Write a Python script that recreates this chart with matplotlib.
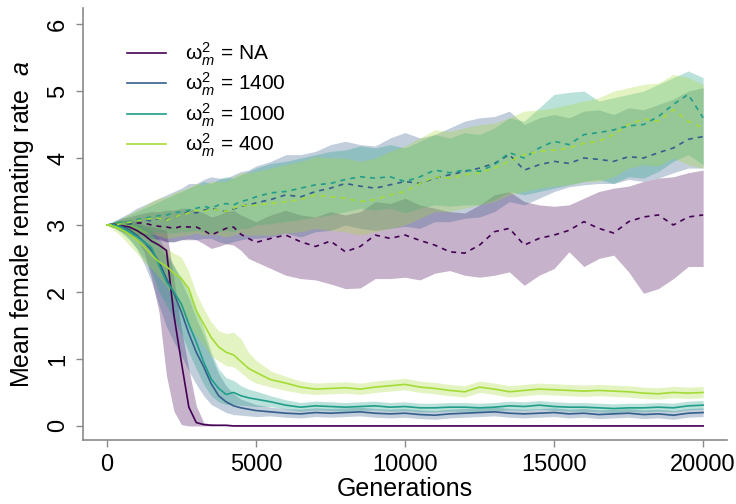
import matplotlib
matplotlib.use('Agg')
import matplotlib.pyplot as plt

plt.rcParams['font.family'] = ['Liberation Sans', 'DejaVu Sans']
plt.rcParams['mathtext.fontset'] = 'custom'
plt.rcParams['mathtext.rm'] = 'Liberation Sans'
plt.rcParams['mathtext.it'] = 'Liberation Sans:italic'

# generations (finer steps during the early drop)
gens = [0, 250, 500, 750, 1000, 1250, 1500, 1750, 2000, 2250, 2500, 2750, 3000, 3250, 3500,
        3750, 4000, 4250, 4500, 4750, 5000, 5500, 6000, 6500, 7000, 7500, 8000, 8500, 9000,
        9500, 10000, 10500, 11000, 11500, 12000, 12500, 13000, 13500, 14000, 14500, 15000,
        15500, 16000, 16500, 17000, 17500, 18000, 18500, 19000, 19500, 20000]

labels = ['NA', '1400', '1000', '400']
colors = ['#440154', '#355F8D', '#1F9E89', '#A5DB36']

# solid lines: runs where remating rate collapses
dec_mean_na = [3.00, 3.01, 2.99, 2.97, 2.92, 2.85, 2.76, 2.70, 2.62, 1.65, 0.95, 0.28, 0.05, 0.02, 0.01,
               0.01, 0.01, 0.00, 0.00, 0.00, 0.00, 0.00, 0.00, 0.00, 0.00, 0.00, 0.00, 0.00, 0.00,
               0.00, 0.00, 0.00, 0.00, 0.00, 0.00, 0.00, 0.00, 0.00, 0.00, 0.00, 0.00,
               0.00, 0.00, 0.00, 0.00, 0.00, 0.00, 0.00, 0.00, 0.00, 0.00]
dec_lo_na = [3.00, 2.96, 2.90, 2.85, 2.78, 2.60, 2.20, 1.70, 0.75, 0.22, 0.02, 0.00, 0.00, 0.00, 0.00,
             0.00, 0.00, 0.00, 0.00, 0.00, 0.00, 0.00, 0.00, 0.00, 0.00, 0.00, 0.00, 0.00, 0.00,
             0.00, 0.00, 0.00, 0.00, 0.00, 0.00, 0.00, 0.00, 0.00, 0.00, 0.00, 0.00,
             0.00, 0.00, 0.00, 0.00, 0.00, 0.00, 0.00, 0.00, 0.00, 0.00]
dec_hi_na = [3.00, 3.05, 3.06, 3.08, 3.05, 3.00, 2.98, 2.95, 2.92, 2.20, 1.45, 0.85, 0.30, 0.05, 0.03,
             0.02, 0.01, 0.01, 0.01, 0.01, 0.01, 0.01, 0.01, 0.01, 0.01, 0.01, 0.01, 0.01, 0.01,
             0.01, 0.01, 0.01, 0.01, 0.01, 0.01, 0.01, 0.01, 0.01, 0.01, 0.01, 0.01,
             0.01, 0.01, 0.01, 0.01, 0.01, 0.01, 0.01, 0.01, 0.01, 0.01]

dec_mean_1400 = [3.00, 3.00, 2.98, 2.93, 2.85, 2.75, 2.62, 2.45, 2.20, 1.98, 1.70, 1.38, 1.10, 0.88, 0.63,
                 0.45, 0.36, 0.30, 0.27, 0.25, 0.23, 0.21, 0.19, 0.18, 0.20, 0.19, 0.20, 0.21, 0.19,
                 0.18, 0.19, 0.17, 0.16, 0.18, 0.19, 0.20, 0.21, 0.19, 0.18, 0.19, 0.20,
                 0.18, 0.19, 0.17, 0.18, 0.19, 0.17, 0.18, 0.16, 0.19, 0.20]
dec_lo_1400 = [3.00, 2.96, 2.90, 2.80, 2.65, 2.42, 2.15, 1.80, 1.48, 1.25, 1.05, 0.82, 0.62, 0.45, 0.32,
               0.26, 0.20, 0.17, 0.16, 0.15, 0.14, 0.15, 0.13, 0.12, 0.14, 0.13, 0.14, 0.15, 0.13,
               0.12, 0.13, 0.11, 0.10, 0.12, 0.13, 0.14, 0.15, 0.13, 0.12, 0.13, 0.14,
               0.12, 0.13, 0.11, 0.12, 0.13, 0.11, 0.12, 0.10, 0.13, 0.14]
dec_hi_1400 = [3.00, 3.05, 3.07, 3.06, 3.03, 2.98, 2.92, 2.80, 2.60, 2.40, 2.15, 1.90, 1.60, 1.35, 1.05,
               0.78, 0.60, 0.48, 0.40, 0.36, 0.32, 0.28, 0.26, 0.25, 0.27, 0.26, 0.27, 0.28, 0.26,
               0.25, 0.26, 0.24, 0.23, 0.25, 0.26, 0.27, 0.28, 0.26, 0.25, 0.26, 0.27,
               0.25, 0.26, 0.24, 0.25, 0.26, 0.24, 0.25, 0.23, 0.26, 0.27]

dec_mean_1000 = [3.00, 3.00, 2.96, 2.90, 2.83, 2.75, 2.66, 2.40, 2.15, 2.00, 1.82, 1.52, 1.25, 0.95, 0.70,
                 0.56, 0.47, 0.50, 0.45, 0.42, 0.40, 0.36, 0.31, 0.28, 0.30, 0.29, 0.28, 0.29, 0.30,
                 0.28, 0.29, 0.27, 0.27, 0.28, 0.28, 0.27, 0.28, 0.30, 0.29, 0.31, 0.29,
                 0.28, 0.28, 0.27, 0.26, 0.27, 0.27, 0.28, 0.27, 0.30, 0.31]
dec_lo_1000 = [3.00, 2.96, 2.88, 2.78, 2.65, 2.50, 2.30, 2.00, 1.80, 1.60, 1.38, 1.10, 0.85, 0.62, 0.45,
               0.36, 0.32, 0.32, 0.31, 0.30, 0.29, 0.29, 0.25, 0.22, 0.24, 0.23, 0.22, 0.23, 0.24,
               0.22, 0.23, 0.21, 0.21, 0.22, 0.22, 0.21, 0.22, 0.24, 0.23, 0.25, 0.23,
               0.22, 0.22, 0.21, 0.20, 0.21, 0.21, 0.22, 0.21, 0.24, 0.25]
dec_hi_1000 = [3.00, 3.05, 3.06, 3.05, 3.00, 2.95, 2.90, 2.70, 2.52, 2.38, 2.22, 2.00, 1.75, 1.45, 1.10,
               0.85, 0.72, 0.68, 0.60, 0.55, 0.52, 0.45, 0.39, 0.35, 0.37, 0.36, 0.35, 0.36, 0.37,
               0.35, 0.36, 0.34, 0.34, 0.35, 0.35, 0.34, 0.35, 0.37, 0.36, 0.38, 0.36,
               0.35, 0.35, 0.34, 0.33, 0.34, 0.34, 0.35, 0.34, 0.37, 0.38]

dec_mean_400 = [3.00, 2.98, 2.93, 2.86, 2.78, 2.68, 2.55, 2.45, 2.38, 2.28, 2.20, 2.05, 1.72, 1.52, 1.32,
                1.18, 1.10, 1.06, 0.96, 0.86, 0.80, 0.69, 0.64, 0.58, 0.55, 0.56, 0.57, 0.55, 0.58,
                0.60, 0.62, 0.58, 0.56, 0.53, 0.51, 0.58, 0.55, 0.51, 0.53, 0.55, 0.54,
                0.53, 0.52, 0.53, 0.52, 0.51, 0.49, 0.48, 0.50, 0.49, 0.50]
dec_lo_400 = [3.00, 2.92, 2.82, 2.70, 2.58, 2.45, 2.35, 2.22, 2.08, 1.90, 1.72, 1.50, 1.35, 1.20, 1.05,
              0.97, 0.90, 0.88, 0.80, 0.70, 0.64, 0.58, 0.53, 0.49, 0.47, 0.48, 0.49, 0.47, 0.50,
              0.52, 0.54, 0.50, 0.48, 0.45, 0.43, 0.50, 0.47, 0.43, 0.45, 0.47, 0.46,
              0.45, 0.44, 0.45, 0.44, 0.43, 0.41, 0.40, 0.42, 0.41, 0.42]
dec_hi_400 = [3.00, 3.04, 3.05, 3.02, 2.98, 2.92, 2.85, 2.75, 2.65, 2.58, 2.52, 2.30, 1.98, 1.75, 1.55,
              1.42, 1.38, 1.40, 1.30, 1.10, 0.98, 0.82, 0.74, 0.67, 0.64, 0.65, 0.66, 0.64, 0.67,
              0.69, 0.71, 0.67, 0.65, 0.62, 0.60, 0.67, 0.64, 0.60, 0.62, 0.64, 0.63,
              0.62, 0.61, 0.62, 0.61, 0.60, 0.58, 0.57, 0.59, 0.58, 0.59]

# dashed lines: runs where remating rate keeps rising
inc_mean_na = [3.00, 3.01, 3.02, 3.02, 3.03, 3.03, 3.00, 2.98, 2.97, 2.95, 2.98, 2.97, 2.97, 2.92, 2.85,
               2.90, 2.95, 2.97, 2.86, 2.80, 2.74, 2.80, 2.85, 2.75, 2.68, 2.76, 2.60, 2.68, 2.85,
               2.80, 2.85, 2.77, 2.70, 2.60, 2.58, 2.70, 2.90, 2.95, 2.70, 2.80, 2.85,
               2.92, 3.05, 2.95, 2.88, 3.05, 3.12, 3.15, 3.00, 3.12, 3.15]
inc_lo_na = [3.00, 2.97, 2.94, 2.90, 2.88, 2.85, 2.80, 2.78, 2.75, 2.75, 2.78, 2.78, 2.78, 2.72, 2.65,
             2.68, 2.72, 2.70, 2.62, 2.50, 2.45, 2.35, 2.25, 2.20, 2.18, 2.12, 2.05, 2.06, 2.20,
             2.20, 2.22, 2.18, 2.28, 2.32, 2.25, 2.22, 2.25, 2.30, 2.10, 2.25, 2.35,
             2.60, 2.38, 2.50, 2.55, 2.30, 1.98, 2.05, 2.20, 2.38, 2.38]
inc_hi_na = [3.00, 3.05, 3.10, 3.12, 3.15, 3.18, 3.20, 3.20, 3.22, 3.22, 3.25, 3.25, 3.22, 3.18, 3.12,
             3.15, 3.20, 3.22, 3.15, 3.10, 3.05, 3.15, 3.22, 3.15, 3.12, 3.20, 3.15, 3.20, 3.35,
             3.32, 3.40, 3.30, 3.25, 3.20, 3.18, 3.30, 3.45, 3.50, 3.35, 3.30, 3.28,
             3.30, 3.40, 3.50, 3.55, 3.58, 3.65, 3.70, 3.72, 3.78, 3.82]

inc_mean_1400 = [3.00, 3.01, 3.03, 3.02, 3.05, 3.08, 3.06, 3.10, 3.08, 3.12, 3.15, 3.20, 3.18, 3.22, 3.25,
                 3.22, 3.20, 3.24, 3.28, 3.30, 3.33, 3.38, 3.45, 3.42, 3.50, 3.55, 3.62, 3.58, 3.55,
                 3.60, 3.65, 3.62, 3.70, 3.75, 3.80, 3.85, 3.92, 4.05, 3.82, 3.90, 3.95,
                 3.92, 4.00, 3.98, 3.95, 4.02, 4.00, 4.08, 4.15, 4.28, 4.32]
inc_lo_1400 = [3.00, 2.96, 2.94, 2.88, 2.85, 2.85, 2.80, 2.80, 2.75, 2.75, 2.78, 2.80, 2.78, 2.80, 2.80,
               2.75, 2.72, 2.75, 2.78, 2.80, 2.80, 2.82, 2.88, 2.82, 2.90, 2.92, 3.00, 2.95, 2.92,
               2.95, 2.98, 2.95, 3.05, 3.05, 3.10, 3.12, 3.20, 3.35, 3.30, 3.40, 3.50,
               3.57, 3.60, 3.62, 3.62, 3.68, 3.65, 3.70, 3.78, 3.85, 3.85]
inc_hi_1400 = [3.00, 3.06, 3.12, 3.18, 3.25, 3.30, 3.35, 3.40, 3.45, 3.50, 3.55, 3.62, 3.62, 3.68, 3.72,
               3.70, 3.70, 3.75, 3.80, 3.82, 3.88, 3.95, 4.05, 4.05, 4.10, 4.20, 4.25, 4.20, 4.18,
               4.30, 4.38, 4.30, 4.35, 4.45, 4.55, 4.60, 4.62, 4.70, 4.50, 4.60, 4.65,
               4.60, 4.70, 4.72, 4.65, 4.75, 4.72, 4.80, 4.88, 5.00, 5.05]

inc_mean_1000 = [3.00, 3.02, 3.04, 3.05, 3.08, 3.10, 3.12, 3.14, 3.15, 3.18, 3.20, 3.22, 3.25, 3.28, 3.25,
                 3.30, 3.32, 3.30, 3.35, 3.38, 3.42, 3.48, 3.50, 3.55, 3.60, 3.62, 3.68, 3.72, 3.70,
                 3.72, 3.65, 3.72, 3.82, 3.78, 3.82, 3.80, 3.90, 4.08, 4.00, 4.15, 4.25,
                 4.20, 4.35, 4.38, 4.42, 4.48, 4.50, 4.62, 4.80, 4.95, 4.60]
inc_lo_1000 = [3.00, 2.97, 2.95, 2.92, 2.92, 2.90, 2.90, 2.90, 2.88, 2.88, 2.90, 2.90, 2.92, 2.90, 2.88,
               2.90, 2.92, 2.90, 2.95, 2.95, 3.00, 3.02, 3.05, 3.08, 3.12, 3.15, 3.20, 3.25, 3.22,
               3.25, 3.18, 3.25, 3.30, 3.28, 3.30, 3.30, 3.38, 3.50, 3.45, 3.50, 3.55,
               3.60, 3.65, 3.68, 3.62, 3.72, 3.70, 3.80, 3.95, 4.05, 3.90]
inc_hi_1000 = [3.00, 3.06, 3.10, 3.15, 3.20, 3.25, 3.30, 3.35, 3.40, 3.45, 3.50, 3.55, 3.60, 3.65, 3.62,
               3.68, 3.72, 3.70, 3.75, 3.80, 3.85, 3.92, 3.95, 4.00, 4.05, 4.10, 4.12, 4.18, 4.15,
               4.20, 4.15, 4.25, 4.35, 4.30, 4.38, 4.35, 4.45, 4.60, 4.55, 4.75, 4.95,
               4.98, 5.00, 4.85, 4.90, 4.95, 5.00, 5.10, 5.20, 5.30, 5.20]

inc_mean_400 = [3.00, 3.00, 3.02, 3.04, 3.06, 3.08, 3.10, 3.10, 3.07, 3.12, 3.15, 3.18, 3.22, 3.20, 3.24,
                3.22, 3.20, 3.25, 3.30, 3.28, 3.30, 3.32, 3.35, 3.38, 3.45, 3.42, 3.40, 3.35, 3.38,
                3.45, 3.50, 3.62, 3.72, 3.70, 3.75, 3.78, 3.85, 3.95, 4.05, 4.10, 4.12,
                4.15, 4.22, 4.25, 4.35, 4.50, 4.58, 4.55, 4.72, 4.55, 4.45]
inc_lo_400 = [3.00, 2.95, 2.92, 2.90, 2.88, 2.88, 2.86, 2.84, 2.80, 2.82, 2.84, 2.85, 2.88, 2.85, 2.86,
              2.85, 2.82, 2.85, 2.88, 2.85, 2.85, 2.85, 2.88, 2.90, 2.95, 2.92, 2.90, 2.85, 2.90,
              2.95, 3.00, 3.10, 3.20, 3.20, 3.25, 3.30, 3.35, 3.45, 3.50, 3.55, 3.58,
              3.60, 3.65, 3.65, 3.72, 3.85, 3.90, 3.88, 4.00, 3.90, 3.85]
inc_hi_400 = [3.00, 3.05, 3.10, 3.16, 3.22, 3.28, 3.35, 3.40, 3.42, 3.48, 3.52, 3.56, 3.62, 3.60, 3.65,
              3.65, 3.65, 3.72, 3.78, 3.78, 3.80, 3.85, 3.90, 3.95, 4.02, 4.00, 4.00, 3.95, 4.00,
              4.10, 4.18, 4.30, 4.42, 4.40, 4.45, 4.50, 4.52, 4.60, 4.70, 4.72, 4.75,
              4.80, 4.85, 4.90, 5.00, 5.05, 5.10, 5.12, 5.25, 5.20, 5.10]

dec_means = [dec_mean_na, dec_mean_1400, dec_mean_1000, dec_mean_400]
dec_los = [dec_lo_na, dec_lo_1400, dec_lo_1000, dec_lo_400]
dec_his = [dec_hi_na, dec_hi_1400, dec_hi_1000, dec_hi_400]
inc_means = [inc_mean_na, inc_mean_1400, inc_mean_1000, inc_mean_400]
inc_los = [inc_lo_na, inc_lo_1400, inc_lo_1000, inc_lo_400]
inc_his = [inc_hi_na, inc_hi_1400, inc_hi_1000, inc_hi_400]

fig = plt.figure(figsize=(7.36, 5.04), dpi=100)
ax = fig.add_axes([83 / 736, 1 - 440 / 504, 644 / 736, 432 / 504])

# ribbons first, then the mean lines on top
for i in range(4):
    ax.fill_between(gens, dec_los[i], dec_his[i], color=colors[i], alpha=0.3, linewidth=0)
    ax.fill_between(gens, inc_los[i], inc_his[i], color=colors[i], alpha=0.3, linewidth=0)

handles = []
for i in range(4):
    h, = ax.plot(gens, dec_means[i], color=colors[i], lw=1.2)
    ax.plot(gens, inc_means[i], color=colors[i], lw=1.2, linestyle=(0, (3, 3)))
    handles.append(h)

ax.set_xlim(-800, 20800)
ax.set_ylim(-0.21, 6.24)
ax.set_xticks([0, 5000, 10000, 15000, 20000])
ax.set_yticks([0, 1, 2, 3, 4, 5, 6])

for side in ['top', 'right']:
    ax.spines[side].set_visible(False)
for side in ['left', 'bottom']:
    ax.spines[side].set_color('#8a8a8a')
    ax.spines[side].set_linewidth(1.2)

ax.tick_params(color='#8a8a8a', labelcolor='black', length=5, width=1, labelsize=17, pad=5)
plt.setp(ax.get_yticklabels(), rotation=90, va='center')

ax.set_xlabel('Generations', fontsize=18, labelpad=1)
ax.set_ylabel('Mean female remating rate  $a$', fontsize=18, labelpad=8)

leg_labels = [r'$\mathrm{\omega}_m^2$ = ' + lab for lab in labels]
ax.legend(handles, leg_labels, loc='upper left', bbox_to_anchor=(0.068, 0.925), frameon=False,
          fontsize=15, handlelength=1.9, handletextpad=0.9, labelspacing=0.15,
          borderpad=0, borderaxespad=0)

fig.savefig('out.png', dpi=100)
